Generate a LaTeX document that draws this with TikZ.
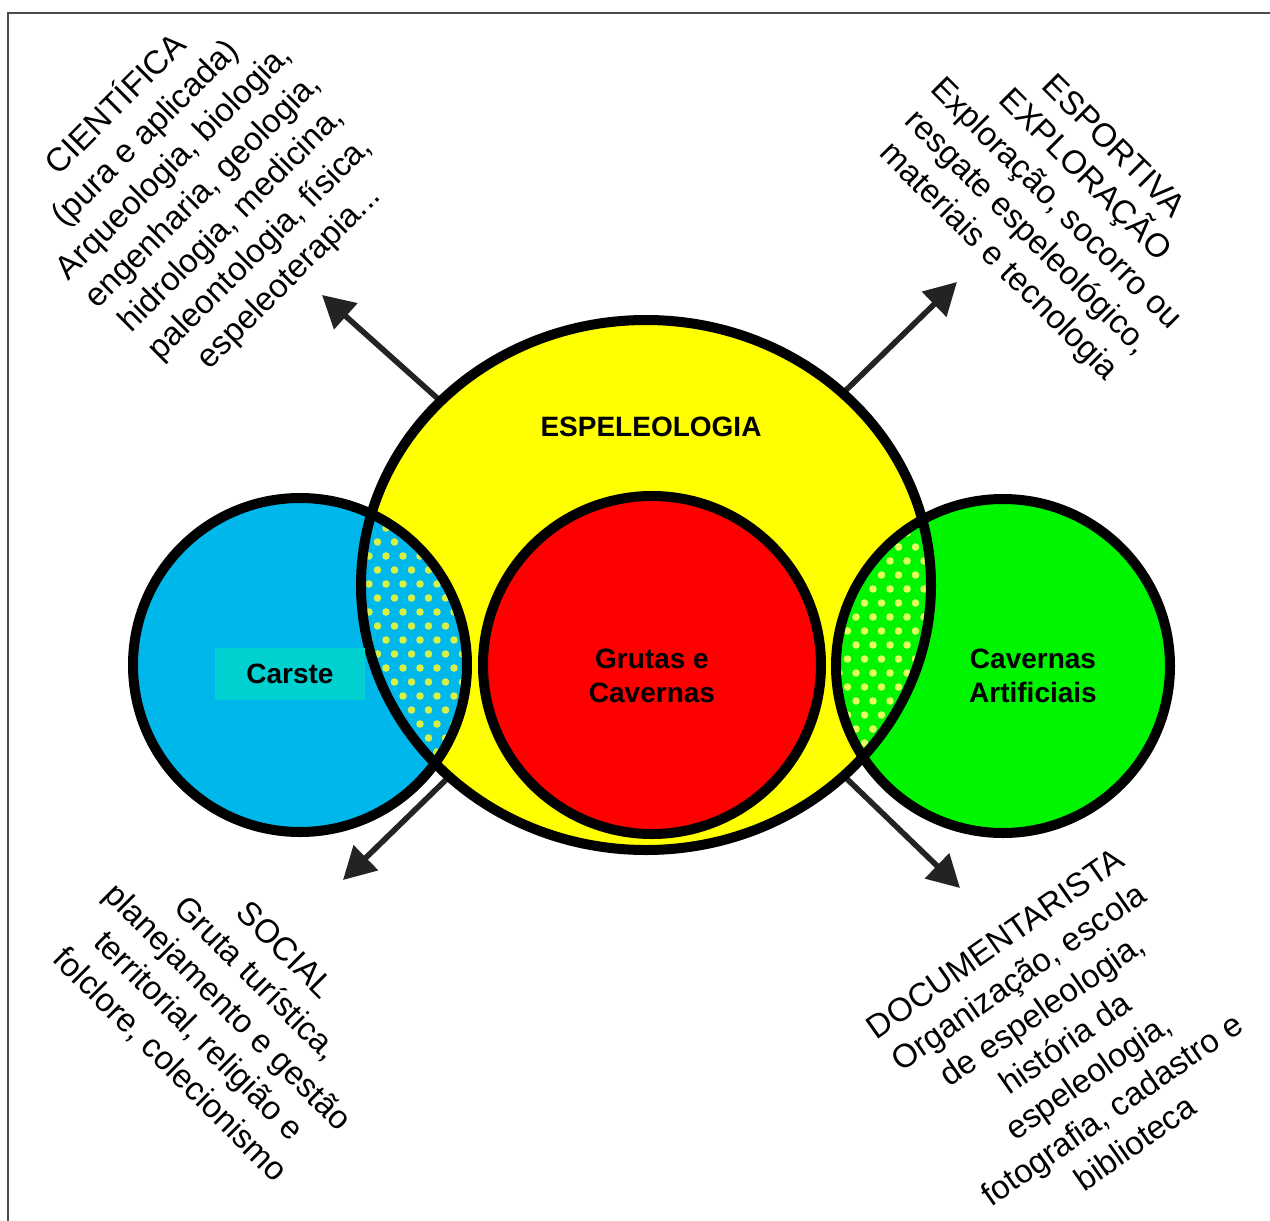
\documentclass[tikz,border=0pt]{standalone}
\usepackage{fontspec}
\setmainfont{Liberation Sans}
\usetikzlibrary{arrows.meta,positioning}
\definecolor{CaveYellow}{RGB}{255,255,0}
\definecolor{KarstBlue}{RGB}{0,183,235}
\definecolor{KarstTeal}{RGB}{0,208,208}
\definecolor{CaveRed}{RGB}{255,0,0}
\definecolor{MineGreen}{RGB}{0,245,0}
\definecolor{DotYellow}{RGB}{214,240,70}
\definecolor{DotLime}{RGB}{225,255,95}
\definecolor{ArrowGray}{RGB}{35,35,35}

\begin{document}
\begin{tikzpicture}[>={Triangle[length=16pt,width=17pt]},x=0.5pt,y=-0.5pt]
\tikzset{
  ring/.style={draw=black,line width=5pt},
  branch/.style={->,ArrowGray,line width=2.8pt},
  bigtag/.style={font=\bfseries\fontsize{14}{17}\selectfont,align=center,inner sep=0pt},
  fieldtext/.style={font=\fontsize{16.5}{20.3}\selectfont,align=center,inner sep=0pt}
}
\useasboundingbox (0,0) rectangle (1270,1221);
\clip (0,0) rectangle (1270,1221);
\draw[gray!60!black,line width=1pt] (8,13) rectangle (1290,1240);
% centres of the sets
\coordinate (espeleo) at (646,585);
\coordinate (carste) at (300,665);
\coordinate (grutas) at (652,665);
\coordinate (artif) at (1003,666);
% arrow ends
\coordinate (tipNW) at (322,295);
\coordinate (tipNE) at (957,282);
\coordinate (tipSW) at (343,880);
\coordinate (tipSE) at (960,888);
\draw[branch] (espeleo) -- (tipNW);
\draw[branch] (espeleo) -- (tipNE);
\draw[branch] (espeleo) -- (tipSW);
\draw[branch] (espeleo) -- (tipSE);
% fills
\fill[CaveYellow] (espeleo) ellipse [x radius=285,y radius=265];
\fill[KarstBlue] (carste) circle [radius=167];
\fill[MineGreen] (artif) circle [radius=167];
\begin{scope}
  \clip (carste) circle [radius=167];
  \clip (espeleo) ellipse [x radius=285,y radius=265];
  \foreach \r in {0,...,21} \foreach \c in {0,...,8}
    \fill[DotYellow] ({352+17*\c+8.5*mod(\r,2)},{500+14*\r}) circle [radius=3.8];
\end{scope}
\begin{scope}
  \clip (artif) circle [radius=167];
  \clip (espeleo) ellipse [x radius=285,y radius=265];
  \foreach \r in {0,...,21} \foreach \c in {0,...,8}
    \fill[DotLime] ({822+17*\c+8.5*mod(\r,2)},{505+14*\r}) circle [radius=3.8];
\end{scope}
\fill[CaveRed] (grutas) circle [radius=169];
% outlines
\draw[ring] (espeleo) ellipse [x radius=285,y radius=265];
\draw[ring] (carste) circle [radius=167];
\draw[ring] (artif) circle [radius=167];
\draw[ring] (grutas) circle [radius=169];
% labels
\node[bigtag] (tEspeleo) at (651,427) {ESPELEOLOGIA};
\node[bigtag] (tGrutas) at (652,676) {Grutas e\\Cavernas};
\node[bigtag,fill=KarstTeal,minimum width=75pt,minimum height=26pt] (tCarste) at (290,674) {Carste};
\node[bigtag] (tArtif) at (1033,676) {Cavernas\\Artificiais};
\node[fieldtext,rotate=45] (cientifica) at (202,190) {CIENTÍFICA\\(pura e aplicada)\\Arqueologia, biologia,\\engenharia, geologia,\\hidrologia, medicina,\\paleontologia, física,\\espeleoterapia...};
\node[fieldtext,rotate=-45] (esportiva) at (1055,205) {ESPORTIVA\\EXPLORAÇÃO\\Exploração, socorro ou\\resgate espeleológico,\\materiais e tecnologia};
\node[fieldtext,rotate=-45] (social) at (227,1008) {SOCIAL\\Gruta turística,\\planejamento e gestão\\territorial, religião e\\folclore, colecionismo};
\node[fieldtext,rotate=35] (documentarista) at (1065,1043) {DOCUMENTARISTA\\Organização, escola\\de espeleologia,\\história da\\espeleologia,\\fotografia, cadastro e\\biblioteca};
\end{tikzpicture}
\end{document}
